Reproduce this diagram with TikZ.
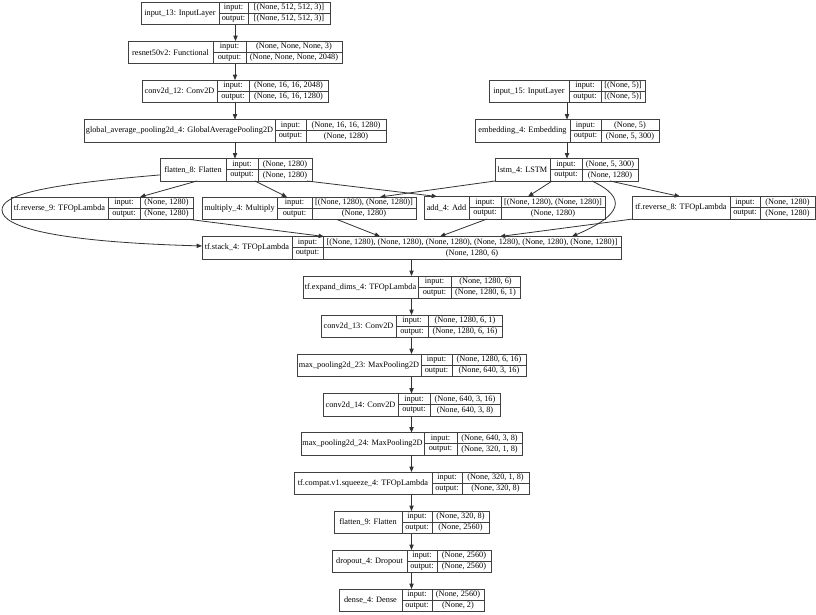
\documentclass[tikz,border=0pt]{standalone}
\usepackage{fontspec}
\setmainfont{Liberation Serif}
\usetikzlibrary{calc,fit,arrows.meta}
\tikzset{
  box/.style={draw=black!75, line width=0.6pt, inner sep=0pt, outer sep=0pt},
  ln/.style={draw=black!75, line width=0.6pt},
  txt/.style={font=\fontsize{6.2}{7}\selectfont, inner sep=0pt, text=black},
  edge/.style={draw=black!80, line width=0.6pt, -{Triangle[length=4pt,width=3.2pt]}},
}
\newcommand\rec[9]{%
  \pgfmathsetmacro\yb{#3+22.5}%
  \pgfmathsetmacro\ym{#3+11.25}%
  \pgfmathsetmacro\yi{#3+5.8}%
  \pgfmathsetmacro\yo{#3+16.9}%
  \node[box, fit={(#2,#3) (#4,\yb)}] (#1) {};
  \draw[ln] (#5,#3) -- (#5,\yb) (#6,#3) -- (#6,\yb) (#5,\ym) -- (#4,\ym);
  \node[txt] at ({(#2+#5)/2},\ym) {#7};
  \node[txt] at ({(#5+#6)/2},\yi) {input:};
  \node[txt] at ({(#5+#6)/2},\yo) {output:};
  \node[txt] at ({(#6+#4)/2},\yi) {#8};
  \node[txt] at ({(#6+#4)/2},\yo) {#9};
}
\begin{document}
\begin{tikzpicture}[x=0.75pt,y=-0.75pt]
\useasboundingbox[fill=white] (0,0) rectangle (816,614);
% boxes
\rec{in13}{141}{2}{330}{219}{248}{input\_13: InputLayer}{[(None, 512, 512, 3)]}{[(None, 512, 512, 3)]}
\rec{res}{128}{41}{342}{213}{246}{resnet50v2: Functional}{(None, None, None, 3)}{(None, None, None, 2048)}
\rec{c12}{142}{80}{328}{217}{249}{conv2d\_12: Conv2D}{(None, 16, 16, 2048)}{(None, 16, 16, 1280)}
\rec{gap}{84}{119.5}{386}{275}{306}{global\_average\_pooling2d\_4: GlobalAveragePooling2D}{(None, 16, 16, 1280)}{(None, 1280)}
\rec{fl8}{160}{158.5}{312}{226}{258}{flatten\_8: Flatten}{(None, 1280)}{(None, 1280)}
\rec{in15}{489}{80}{645}{569}{601}{input\_15: InputLayer}{[(None, 5)]}{[(None, 5)]}
\rec{emb}{475}{119.5}{659}{570}{601}{embedding\_4: Embedding}{(None, 5)}{(None, 5, 300)}
\rec{lstm}{495}{158.5}{638}{550}{582}{lstm\_4: LSTM}{(None, 5, 300)}{(None, 1280)}
\rec{rv9}{11}{197}{193}{108}{140}{tf.reverse\_9: TFOpLambda}{(None, 1280)}{(None, 1280)}
\rec{mul}{202}{197}{416}{277}{312}{multiply\_4: Multiply}{[(None, 1280), (None, 1280)]}{(None, 1280)}
\rec{add}{424}{196.5}{605}{469}{501}{add\_4: Add}{[(None, 1280), (None, 1280)]}{(None, 1280)}
\rec{rv8}{632}{196.5}{815}{730}{760}{tf.reverse\_8: TFOpLambda}{(None, 1280)}{(None, 1280)}
\rec{stk}{202}{236.5}{621}{292}{323}{tf.stack\_4: TFOpLambda}{[(None, 1280), (None, 1280), (None, 1280), (None, 1280), (None, 1280), (None, 1280)]}{(None, 1280, 6)}
\rec{exd}{303}{276}{520}{418}{451}{tf.expand\_dims\_4: TFOpLambda}{(None, 1280, 6)}{(None, 1280, 6, 1)}
\rec{c13}{321}{315}{502}{396}{428}{conv2d\_13: Conv2D}{(None, 1280, 6, 1)}{(None, 1280, 6, 16)}
\rec{mp23}{297}{354}{526}{421}{452}{max\_pooling2d\_23: MaxPooling2D}{(None, 1280, 6, 16)}{(None, 640, 3, 16)}
\rec{c14}{323}{393.5}{500}{398}{430}{conv2d\_14: Conv2D}{(None, 640, 3, 16)}{(None, 640, 3, 8)}
\rec{mp24}{301}{432.5}{522}{424}{457}{max\_pooling2d\_24: MaxPooling2D}{(None, 640, 3, 8)}{(None, 320, 1, 8)}
\rec{sq}{294}{472}{529}{432}{462}{tf.compat.v1.squeeze\_4: TFOpLambda}{(None, 320, 1, 8)}{(None, 320, 8)}
\rec{fl9}{334}{511}{489}{402}{432}{flatten\_9: Flatten}{(None, 320, 8)}{(None, 2560)}
\rec{dr}{332}{550}{491}{407}{437}{dropout\_4: Dropout}{(None, 2560)}{(None, 2560)}
\rec{dn}{339}{589}{484}{402}{432}{dense\_4: Dense}{(None, 2560)}{(None, 2)}
% vertical chains
\draw[edge] (in13.south) -- (in13.south |- res.north);
\draw[edge] (res.south) -- (res.south |- c12.north);
\draw[edge] (c12.south) -- (c12.south |- gap.north);
\draw[edge] (gap.south) -- (gap.south |- fl8.north);
\draw[edge] (in15.south) -- (in15.south |- emb.north);
\draw[edge] (emb.south) -- (emb.south |- lstm.north);
\draw[edge] (stk.south) -- (stk.south |- exd.north);
\draw[edge] (exd.south) -- (exd.south |- c13.north);
\draw[edge] (c13.south) -- (c13.south |- mp23.north);
\draw[edge] (mp23.south) -- (mp23.south |- c14.north);
\draw[edge] (c14.south) -- (c14.south |- mp24.north);
\draw[edge] (mp24.south) -- (mp24.south |- sq.north);
\draw[edge] (sq.south) -- (sq.south |- fl9.north);
\draw[edge] (fl9.south) -- (fl9.south |- dr.north);
\draw[edge] (dr.south) -- (dr.south |- dn.north);
% flatten_8 fan-out
\draw[edge] ($(fl8.south west)!0.243!(fl8.south east)$) -- ($(rv9.north west)!0.709!(rv9.north east)$);
\draw[edge] ($(fl8.south west)!0.625!(fl8.south east)$) -- ($(mul.north west)!0.397!(mul.north east)$);
\draw[edge] ($(fl8.south west)!0.967!(fl8.south east)$) -- ($(add.north west)!0.072!(add.north east)$);
\draw[edge] ($(fl8.north west)!0.73!(fl8.south west)$) .. controls (40,185) and (2,195) .. (2,210)
   .. controls (2,228) and (60,242) .. ($(stk.north west)!0.42!(stk.south west)$);
% lstm fan-out
\draw[edge] (lstm.south west) -- ($(mul.north west)!0.832!(mul.north east)$);
\draw[edge] ($(lstm.south west)!0.399!(lstm.south east)$) -- ($(add.north west)!0.575!(add.north east)$);
\draw[edge] ($(lstm.south west)!0.804!(lstm.south east)$) -- ($(rv8.north west)!0.262!(rv8.north east)$);
\draw[edge] ($(lstm.south west)!0.678!(lstm.south east)$) .. controls (628,198) and (622,215) .. ($(stk.north west)!0.883!(stk.north east)$);
% into stack
\draw[edge] ($(rv9.south west)!0.984!(rv9.south east)$) -- ($(stk.north west)!0.291!(stk.north east)$);
\draw[edge] ($(mul.south west)!0.631!(mul.south east)$) -- ($(stk.north west)!0.425!(stk.north east)$);
\draw[edge] ($(add.south west)!0.348!(add.south east)$) -- ($(stk.north west)!0.568!(stk.north east)$);
\draw[edge] ($(rv8.south west)!0.005!(rv8.south east)$) -- ($(stk.north west)!0.711!(stk.north east)$);
\end{tikzpicture}
\end{document}
